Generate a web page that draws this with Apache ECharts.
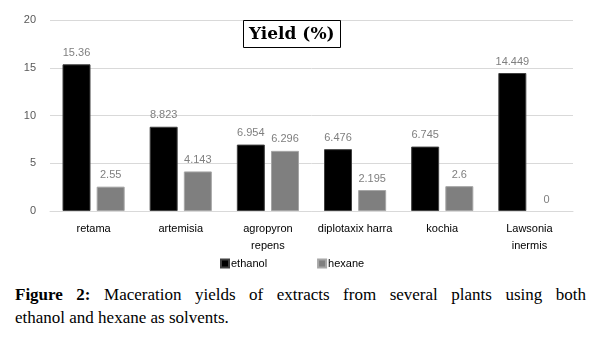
<!DOCTYPE html>
<html>
<head>
<meta charset="utf-8">
<script src="https://cdn.jsdelivr.net/npm/echarts@6/dist/echarts.min.js"></script>
<style>
  body { margin: 0; background: #fff; }
  #chart { width: 603px; height: 276px; }
  .caption {
    margin: 7px 17px 0 15px;
    font-family: "Liberation Serif", "DejaVu Serif", serif;
    font-size: 17px;
    line-height: 23px;
    color: #000;
  }
  .caption .first { text-align: justify; text-align-last: justify; }
</style>
</head>
<body>
<div id="chart"></div>
<div class="caption">
  <div class="first"><b>Figure 2:</b> Maceration yields of extracts from several plants using both</div>
  <div>ethanol and hexane as solvents.</div>
</div>
<script>
var plants = ["retama", "artemisia", "agropyron\nrepens", "diplotaxix harra", "kochia", "Lawsonia\ninermis"];
var ethanol = [15.36, 8.823, 6.954, 6.476, 6.745, 14.449];
var hexane = [2.55, 4.143, 6.296, 2.195, 2.6, 0];

var myChart = echarts.init(document.getElementById("chart"));
var labelStyle = {
  show: true,
  position: "top",
  distance: 6,
  color: "#7f7f7f",
  fontSize: 11,
  fontFamily: "Liberation Sans, Arial, sans-serif",
};
// a zero bar should not leave a border line on the axis
function barItems(values) {
  return values.map(function (v) {
    return v === 0 ? { value: v, itemStyle: { borderWidth: 0 } } : v;
  });
}
var option = {
  animation: false,
  title: {
    text: "Yield (%)",
    left: 243,
    top: 20,
    padding: [6, 6, 5, 6],
    borderColor: "#000",
    borderWidth: 1,
    textStyle: {
      fontFamily: "DejaVu Serif, Liberation Serif, serif",
      fontWeight: "bold",
      fontSize: 17,
      color: "#000",
    },
  },
  legend: {
    bottom: 2,
    left: 215,
    itemWidth: 8,
    itemHeight: 8,
    itemGap: 50,
    icon: "rect",
    textStyle: { color: "#000", fontSize: 11, padding: [0, 0, 0, -3] },
    data: ["ethanol", "hexane"],
  },
  grid: { left: 50, right: 30, top: 20, bottom: 65 },
  xAxis: {
    type: "category",
    data: plants,
    axisTick: { show: false },
    axisLine: { lineStyle: { color: "#d9d9d9" } },
    axisLabel: {
      color: "#000",
      fontSize: 11,
      lineHeight: 17,
      margin: 9,
      interval: 0,
    },
  },
  yAxis: {
    type: "value",
    min: 0,
    max: 20,
    interval: 5,
    axisLine: { show: false },
    axisTick: { show: false },
    splitLine: { lineStyle: { color: "#d9d9d9" } },
    axisLabel: { color: "#595959", fontSize: 11, margin: 14 },
  },
  series: [
    {
      name: "ethanol",
      type: "bar",
      data: barItems(ethanol),
      barWidth: 28,
      barGap: "22%",
      itemStyle: { color: "#000", borderColor: "#404040", borderWidth: 1 },
      label: labelStyle,
    },
    {
      name: "hexane",
      type: "bar",
      data: barItems(hexane),
      barWidth: 28,
      itemStyle: { color: "#7f7f7f", borderColor: "#a6a6a6", borderWidth: 1 },
      label: labelStyle,
    },
  ],
};
myChart.setOption(option);
</script>
</body>
</html>
